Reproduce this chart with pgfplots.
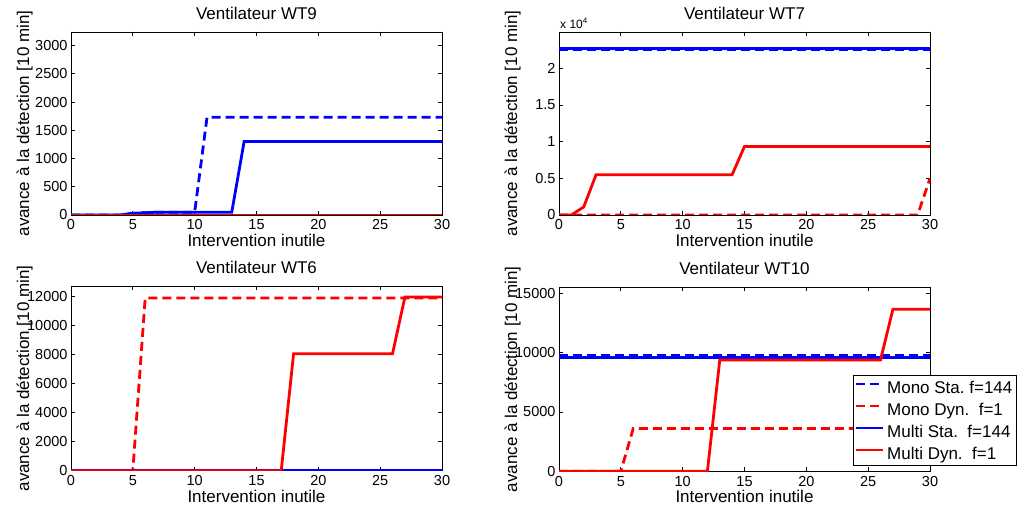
\documentclass[border=0pt]{standalone}
\usepackage{fontspec}
\setmainfont{Liberation Sans}
\usepackage{pgfplots}
\pgfplotsset{compat=1.18}
\newcommand{\bigf}{\fontsize{17bp}{20bp}\selectfont}
\newcommand{\tickf}{\fontsize{14.5bp}{17bp}\selectfont}
\pgfplotsset{
  myax/.style={
    scale only axis, width=371bp,
    xmin=0, xmax=30, xtick={0,5,...,30},
    tick align=inside, major tick length=4bp,
    axis line style={black, line width=0.7bp},
    every tick/.style={black, line width=0.7bp},
    tick label style={font=\tickf},
    /pgf/number format/assume math mode=true,
    /pgf/number format/1000 sep={},
    scaled y ticks=false,
    clip mode=individual,
    xticklabel style={anchor=base, yshift=-15bp},
    title style={font=\bigf, at={(axis description cs:0.5,1)}, anchor=base, yshift=6.5bp},
    xlabel style={font=\bigf, at={(axis description cs:0.5,0)}, anchor=base, yshift=-31.5bp},
    ylabel style={font=\bigf, at={(axis description cs:-0.113,0.5)}, anchor=base},
    xlabel={Intervention inutile},
    ylabel={avance à la détection [10 min]},
  },
  ms/.style={blue, line width=2.8bp, dash pattern=on 9bp off 5bp},
  md/.style={red, line width=2.8bp, dash pattern=on 9bp off 5bp},
  mus/.style={blue, line width=2.8bp},
  mud/.style={red, line width=2.8bp},
}
\begin{document}
\begin{tikzpicture}
\useasboundingbox (0,0) rectangle (1022bp,508bp);
% WT9
\begin{axis}[myax, at={(71bp,293bp)}, anchor=south west, height=183bp,
  ymin=0, ymax=3240, ytick={0,500,...,3000}, title={Ventilateur WT9}]
\addplot[ms] coordinates {(0,0)(4,0)(5,30)(7,50)(10,50)(11,1730)(30,1730)};
\addplot[md] coordinates {(0,0)(30,0)};
\addplot[mus] coordinates {(0,0)(4,0)(5,30)(7,50)(13,50)(14,1300)(30,1300)};
\addplot[mud] coordinates {(0,0)(30,0)};
\end{axis}
% WT7
\begin{axis}[myax, at={(559bp,293bp)}, anchor=south west, height=183bp,
  ymin=0, ymax=24950, ytick={0,5000,10000,15000,20000},
  yticklabels={0,0.5,1,1.5,2}, title={Ventilateur WT7}]
\addplot[ms] coordinates {(0,22550)(30,22550)};
\addplot[md] coordinates {(0,0)(29,0)(30,5000)};
\addplot[mus] coordinates {(0,22700)(30,22700)};
\addplot[mud] coordinates {(0,0)(1,0)(2,1100)(3,5500)(14,5500)(15,9350)(30,9350)};
\node[anchor=base west, font=\fontsize{12bp}{14bp}\selectfont, xshift=1bp, yshift=3bp, inner sep=0pt]
  at (rel axis cs:0,1) {x 10\raisebox{0.45em}{\fontsize{8bp}{9bp}\selectfont 4}};
\end{axis}
% WT6
\begin{axis}[myax, at={(71bp,37.3bp)}, anchor=south west, height=184.4bp,
  ymin=0, ymax=12690, ytick={0,2000,...,12000}, title={Ventilateur WT6}]
\addplot[ms] coordinates {(0,0)(30,0)};
\addplot[md] coordinates {(0,0)(5,0)(6,11880)(30,11880)};
\addplot[mus] coordinates {(0,0)(30,0)};
\addplot[mud] coordinates {(0,0)(17,0)(18,8050)(26,8050)(27,11950)(30,11950)};
\end{axis}
% WT10
\begin{axis}[myax, at={(559bp,36.7bp)}, anchor=south west, height=184bp,
  ymin=0, ymax=15500, ytick={0,5000,10000,15000}, title={Ventilateur WT10},
  legend style={at={(axis description cs:0.7925,0.523)}, anchor=north west,
    font=\bigf, draw=black, line width=0.7bp, fill=white, inner sep=1bp,
    row sep=0bp, cells={anchor=west},
    nodes={inner ysep=1.5bp, inner xsep=3bp, text height=16bp, text depth=3bp}},
  legend cell align=left,
  legend image code/.code={\draw[#1] (4bp,0.35em) -- (31bp,0.35em);}]
\addplot[ms] coordinates {(0,9740)(30,9740)};
\addplot[md] coordinates {(0,0)(5,0)(6,3600)(30,3600)};
\addplot[mus] coordinates {(0,9620)(30,9620)};
\addplot[mud] coordinates {(0,0)(12,0)(13,9380)(26,9380)(27,13650)(30,13650)};
\legend{Mono Sta.\ f=144, Mono Dyn.\ \ f=1, Multi Sta.\ \ f=144, Multi Dyn.\ \ f=1}
\end{axis}
\end{tikzpicture}
\end{document}
